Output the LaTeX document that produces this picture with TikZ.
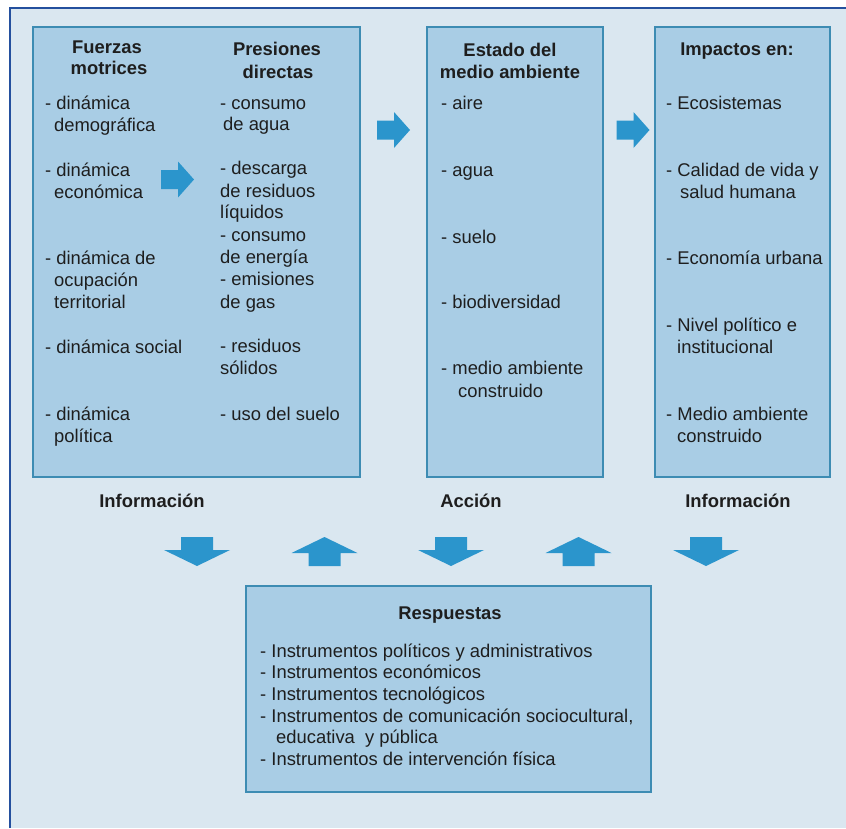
\documentclass[tikz,border=0pt]{standalone}
\usepackage{fontspec}
\setmainfont{Liberation Sans}
\definecolor{bgc}{HTML}{DAE7F0}
\definecolor{boxc}{HTML}{A9CDE5}
\definecolor{boxline}{HTML}{3D8CB3}
\definecolor{arrc}{HTML}{2B95CC}
\definecolor{framec}{HTML}{24509E}
\definecolor{txtc}{HTML}{1E1E1E}
\tikzset{
  box/.style={draw=boxline, fill=boxc, line width=1.6pt, inner sep=0pt, rectangle},
  txt/.style={anchor=mid west, inner sep=0pt, yshift=-3.5pt, text=txtc, font=\fontsize{18.4}{22}\selectfont},
  hd/.style={anchor=mid, inner sep=0pt, yshift=-3.5pt, text=txtc, font=\fontsize{18.4}{22}\selectfont\bfseries},
  rarrow/.pic={\fill[arrc] (-16.5,-9.5) -- (0.5,-9.5) -- (0.5,-18) -- (16.5,0) -- (0.5,18) -- (0.5,9.5) -- (-16.5,9.5) -- cycle;},
  darrow/.pic={\fill[arrc] (-16,-14.5) -- (16,-14.5) -- (16,-1.5) -- (33,-1.5) -- (0,14.5) -- (-33,-1.5) -- (-16,-1.5) -- cycle;},
  uarrow/.pic={\fill[arrc] (-16,14.5) -- (16,14.5) -- (16,1.5) -- (33,1.5) -- (0,-14.5) -- (-33,1.5) -- (-16,1.5) -- cycle;},
}
\newcommand\itemline[3]{\node[txt] (#1) at (#2) {#3};}
\newcommand\headline[3]{\node[hd] (#1) at (#2) {#3};}
\begin{document}
\begin{tikzpicture}[x=1pt,y=-1pt]
\useasboundingbox (0,0) rectangle (846,828);
\fill[white] (0,0) rectangle (846,828);
\fill[bgc] (10,8) rectangle (846,828);
\draw[framec, line width=2pt] (10,828) -- (10,8) -- (846,8);

% boxes
\node[box, minimum width=327pt, minimum height=450pt] (b1) at (196.5,252) {};
\node[box, minimum width=176pt, minimum height=450pt] (b2) at (515,252) {};
\node[box, minimum width=175pt, minimum height=450pt] (b3) at (742.5,252) {};
\node[box, minimum width=405pt, minimum height=206pt] (resp) at (448.5,689) {};

% arrows
\pic at (177.5,179.5) {rarrow};
\pic at (393.5,130) {rarrow};
\pic at (633,130) {rarrow};
\pic at (197,551.5) {darrow};
\pic at (324.5,551.5) {uarrow};
\pic at (451,551.5) {darrow};
\pic at (578.5,551.5) {uarrow};
\pic at (706,551.5) {darrow};

% headings
\headline{h1a}{107,47}{Fuerzas}
\headline{h1b}{109,68}{motrices}
\headline{h2a}{277,49}{Presiones}
\headline{h2b}{278,72}{directas}
\headline{h3a}{510,50}{Estado del}
\headline{h3b}{510,72}{medio ambiente}
\headline{h4a}{737,49}{Impactos en:}
\headline{l1}{152,501}{Información}
\headline{l2}{471,501}{Acción}
\headline{l3}{738,501}{Información}
\headline{h5}{450,613}{Respuestas}

% column 1
\itemline{c1a}{45,103}{- dinámica}
\itemline{c1b}{54,125}{demográfica}
\itemline{c1c}{45,170}{- dinámica}
\itemline{c1d}{54,192}{económica}
\itemline{c1e}{45,258}{- dinámica de}
\itemline{c1f}{54,280}{ocupación}
\itemline{c1g}{54,302}{territorial}
\itemline{c1h}{45,347}{- dinámica social}
\itemline{c1i}{45,414}{- dinámica}
\itemline{c1j}{54,436}{política}

% column 2
\itemline{c2a}{220,103}{- consumo}
\itemline{c2b}{223,124}{de agua}
\itemline{c2c}{220,168}{- descarga}
\itemline{c2d}{220,191}{de residuos}
\itemline{c2e}{220,212}{líquidos}
\itemline{c2f}{220,235}{- consumo}
\itemline{c2g}{220,257}{de energía}
\itemline{c2h}{220,279}{- emisiones}
\itemline{c2i}{220,302}{de gas}
\itemline{c2j}{220,346}{- residuos}
\itemline{c2k}{220,368}{sólidos}
\itemline{c2l}{220,414}{- uso del suelo}

% column 3
\itemline{c3a}{441,103}{- aire}
\itemline{c3b}{441,170}{- agua}
\itemline{c3c}{441,237}{- suelo}
\itemline{c3d}{441,302}{- biodiversidad}
\itemline{c3e}{441,368}{- medio ambiente}
\itemline{c3f}{458,391}{construido}

% column 4
\itemline{c4a}{666,103}{- Ecosistemas}
\itemline{c4b}{666,170}{- Calidad de vida y}
\itemline{c4c}{680,192}{salud humana}
\itemline{c4d}{666,258}{- Economía urbana}
\itemline{c4e}{666,325}{- Nivel político e}
\itemline{c4f}{677,347}{institucional}
\itemline{c4g}{666,414}{- Medio ambiente}
\itemline{c4h}{677,436}{construido}

% respuestas
\itemline{r1}{260,651}{- Instrumentos políticos y administrativos}
\itemline{r2}{260,672}{- Instrumentos económicos}
\itemline{r3}{260,694}{- Instrumentos tecnológicos}
\itemline{r4}{260,716}{- Instrumentos de comunicación sociocultural,}
\itemline{r5}{276,737}{educativa~ y pública}
\itemline{r6}{260,759}{- Instrumentos de intervención física}
\end{tikzpicture}
\end{document}
